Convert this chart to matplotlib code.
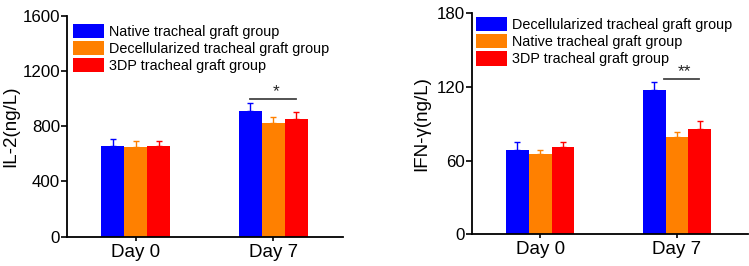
import matplotlib
matplotlib.use("Agg")
import matplotlib.pyplot as plt
import numpy as np

plt.rcParams['font.family'] = ['Liberation Sans', 'DejaVu Sans']

days = ["Day 0", "Day 7"]
colors = ["#0000FF", "#FF8000", "#FF0000"]

# IL-2 panel
il2_labels = ["Native tracheal graft group", "Decellularized tracheal graft group", "3DP tracheal graft group"]
il2_means = [[659, 910], [647, 825], [654, 849]]
il2_errs = [[48, 55], [48, 39], [39, 53]]

# IFN-gamma panel
ifn_labels = ["Decellularized tracheal graft group", "Native tracheal graft group", "3DP tracheal graft group"]
ifn_means = [[69.0, 117.6], [65.2, 79.3], [71.1, 86.0]]
ifn_errs = [[6.0, 6.2], [3.8, 3.7], [3.9, 6.6]]

fig = plt.figure(figsize=(7.49, 2.66), dpi=100)

def panel(rect, means, errs, labels, ylim, yticks, ylabel, sig, leg_xy, ylab_x):
    ax = fig.add_axes(rect)
    w = 0.167
    x = np.arange(len(days))
    for i, (m, e, c, lab) in enumerate(zip(means, errs, colors, labels)):
        pos = x + (i - 1) * w
        ax.bar(pos, m, width=w, color=c, label=lab, zorder=2)
        ax.errorbar(pos, m, yerr=[np.zeros(len(e)), e], fmt='none', ecolor=c,
                    elinewidth=1.0, capsize=2.2, capthick=1.0, zorder=3)
    ax.set_ylim(*ylim)
    ax.set_yticks(yticks)
    ax.set_xticks(x)
    ax.set_xticklabels(days, fontsize=13.5)
    ax.tick_params(axis='y', labelsize=12.2, length=4, width=1.2, direction='out', pad=1)
    ax.tick_params(axis='x', length=3, width=1.2, direction='out', pad=2)
    for s in ['top', 'right']:
        ax.spines[s].set_visible(False)
    for s in ['left', 'bottom']:
        ax.spines[s].set_linewidth(1.3)
    (x0, x1, yl, stars) = sig
    ax.plot([x0, x1], [yl, yl], color='#444444', lw=1.3, zorder=3)
    ax.text((x0 + x1) / 2 + 0.02, yl, stars, ha='center', va='bottom', fontsize=12.5, color='#222222')
    fig.text(ylab_x, rect[1] + rect[3] / 2, ylabel, rotation=90, ha='center', va='center', fontsize=13.5)
    ax.legend(loc='upper left', bbox_to_anchor=leg_xy, bbox_transform=fig.transFigure,
              frameon=False, fontsize=10.4, handlelength=2.15, handleheight=1.15,
              labelspacing=0.14, handletextpad=0.35, borderpad=0, borderaxespad=0)
    return ax

ax1 = panel([0.0895, 0.110, 0.3685, 0.831], il2_means, il2_errs, il2_labels,
            (0, 1600), [0, 400, 800, 1200, 1600], "IL-2(ng/L)",
            (0.83, 1.165, 999, "*"), (72.7 / 749, 1 - 23.5 / 266), 10.5 / 749)
ax1.set_xlim(-0.498, 1.506)

ax2 = panel([0.630, 0.119, 0.368, 0.831], ifn_means, ifn_errs, ifn_labels,
            (0, 180), [0, 60, 120, 180], "IFN-γ(ng/L)",
            (0.905, 1.16, 126.3, "**"), (475.7 / 749, 1 - 17 / 266), 421.5 / 749)
ax2.set_xlim(-0.5, 1.516)

fig.savefig("out.png", dpi=100)
